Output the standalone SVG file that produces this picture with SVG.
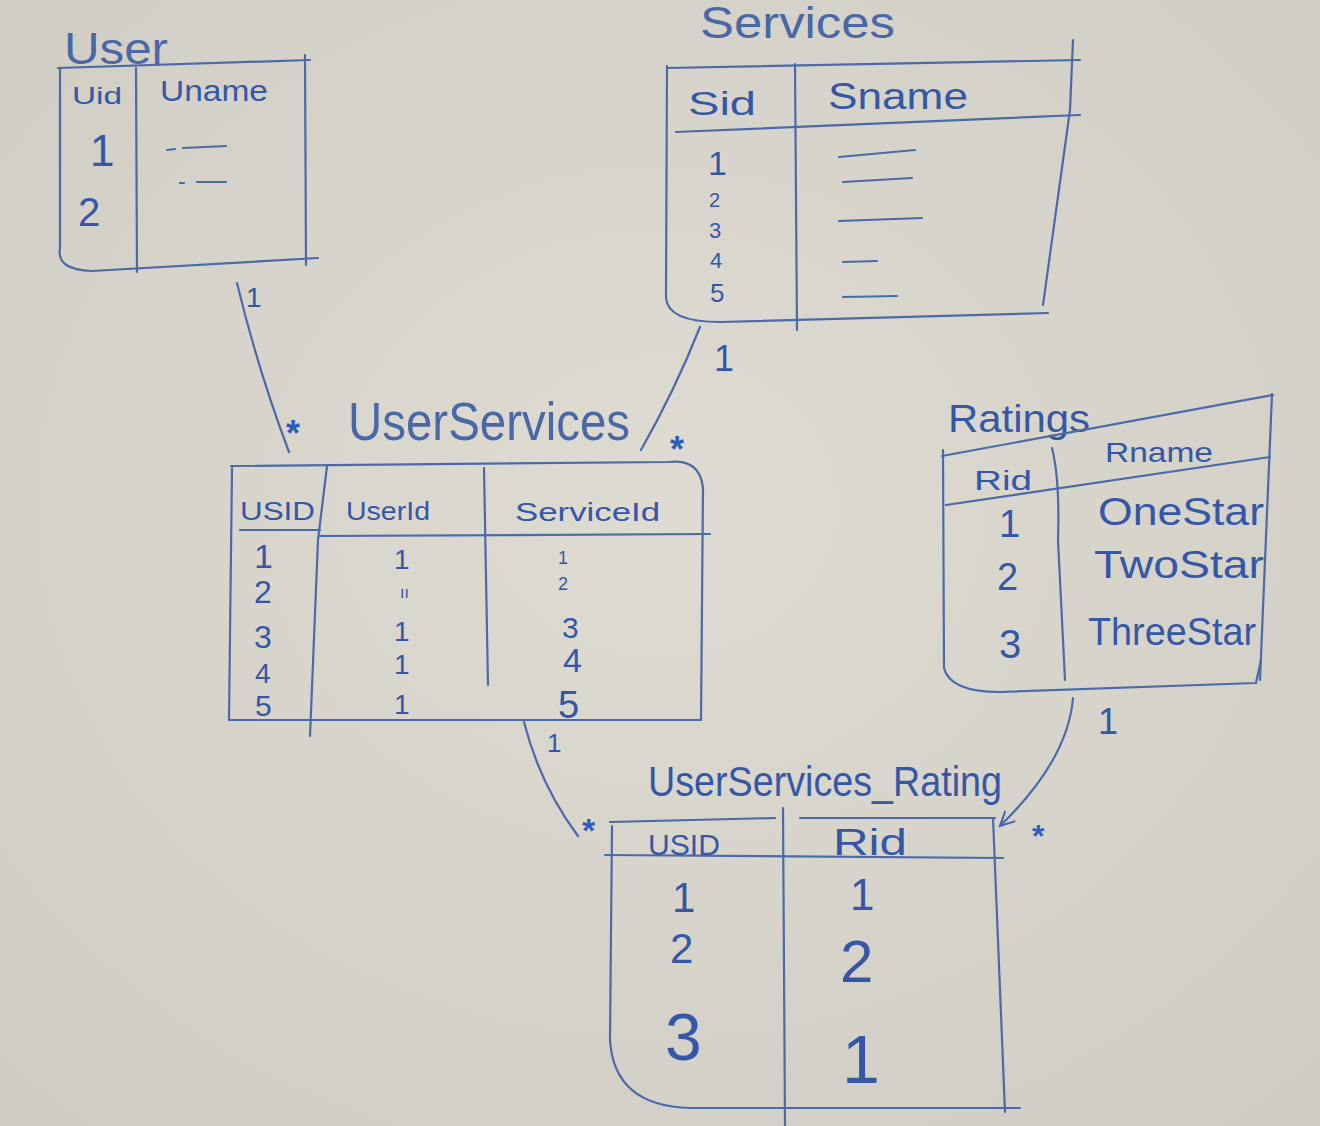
<svg xmlns="http://www.w3.org/2000/svg" width="1320" height="1126" viewBox="0 0 1320 1126">
<defs>
<radialGradient id="bg" cx="50%" cy="45%" r="75%">
<stop offset="0" stop-color="#dedbd3"/>
<stop offset="1" stop-color="#cfccc3"/>
</radialGradient>
<marker id="open" viewBox="0 0 20 20" refX="18" refY="10" markerWidth="18" markerHeight="18" markerUnits="userSpaceOnUse" orient="auto">
<path d="M2,2 L18,10 L2,18" fill="none" stroke="#3f62a8" stroke-width="2.2"/>
</marker>
<style>
.ln{fill:none;stroke:#4b6aa8;stroke-width:2.2;stroke-linecap:round;stroke-linejoin:round}
.tx{font-family:"Liberation Sans","DejaVu Sans",sans-serif;fill:#3557a5}
.ttl{font-family:"Liberation Sans","DejaVu Sans",sans-serif;fill:#4a68a6}
.star{font-family:"Liberation Sans","DejaVu Sans",sans-serif;fill:#2f5bbd;font-weight:bold}
</style>
</defs>
<rect width="1320" height="1126" fill="url(#bg)"/>

<g id="connectors">
<path class="ln" d="M237,283 Q258,370 289,452"/>
<text class="tx" x="246" y="307" font-size="28">1</text>
<text class="star" x="286" y="446" font-size="36">*</text>
<path class="ln" d="M700,327 Q675,390 641,450"/>
<text class="tx" x="714" y="371" font-size="36">1</text>
<text class="star" x="670" y="462" font-size="36">*</text>
<path class="ln" d="M524,722 Q540,785 578,836"/>
<text class="tx" x="547" y="752" font-size="26">1</text>
<text class="star" x="582" y="842" font-size="34">*</text>
<path class="ln" d="M1073,698 Q1068,760 1000,826" marker-end="url(#open)"/>
<text class="tx" x="1098" y="734" font-size="36">1</text>
<text class="star" x="1032" y="847" font-size="32">*</text>
</g>

<g id="user">
<text class="ttl" x="64" y="64" font-size="44" textLength="104" lengthAdjust="spacingAndGlyphs">User</text>
<path class="ln" d="M58,68 L310,60"/>
<path class="ln" d="M60,68 L60,248 Q56,270 92,271 L318,258"/>
<path class="ln" d="M305,55 L306,265"/>
<path class="ln" d="M136,68 L137,272"/>
<text class="tx" x="72" y="104" font-size="24" textLength="50" lengthAdjust="spacingAndGlyphs">Uid</text>
<text class="tx" x="160" y="101" font-size="30" textLength="108" lengthAdjust="spacingAndGlyphs">Uname</text>
<text class="tx" x="90" y="166" font-size="44">1</text>
<text class="tx" x="78" y="226" font-size="40">2</text>
<path class="ln" d="M167,150 L175,149 M183,148 L226,146 M180,183 L184,183 M197,182 L226,182"/>
</g>

<g id="services">
<text class="ttl" x="700" y="38" font-size="44" textLength="195" lengthAdjust="spacingAndGlyphs">Services</text>
<path class="ln" d="M667,68 L1080,60"/>
<path class="ln" d="M676,132 L1080,115"/>
<path class="ln" d="M667,66 L666,298 Q668,322 720,322 L1048,313"/>
<path class="ln" d="M1073,40 L1070,110 L1043,305"/>
<path class="ln" d="M795,64 L797,330"/>
<text class="tx" x="688" y="115" font-size="34" textLength="68" lengthAdjust="spacingAndGlyphs">Sid</text>
<text class="tx" x="828" y="109" font-size="36" textLength="140" lengthAdjust="spacingAndGlyphs">Sname</text>
<text class="tx" x="708" y="175" font-size="34">1</text>
<text class="tx" x="709" y="207" font-size="20">2</text>
<text class="tx" x="709" y="238" font-size="22">3</text>
<text class="tx" x="710" y="268" font-size="22">4</text>
<text class="tx" x="710" y="302" font-size="26">5</text>
<path class="ln" d="M839,157 L915,150 M843,182 L912,178 M839,221 L922,218 M843,262 L877,261 M843,297 L897,296"/>
</g>

<g id="userservices">
<text class="ttl" x="348" y="440" font-size="54" textLength="282" lengthAdjust="spacingAndGlyphs">UserServices</text>
<path class="ln" d="M231,466 L668,462 Q700,458 703,488 L701,720"/>
<path class="ln" d="M232,468 L229,720 L701,720"/>
<path class="ln" d="M240,530 L320,530 M320,536 L710,534"/>
<path class="ln" d="M327,466 L318,540 L310,736"/>
<path class="ln" d="M484,468 L488,685"/>
<text class="tx" x="240" y="520" font-size="26" textLength="75" lengthAdjust="spacingAndGlyphs">USID</text>
<text class="tx" x="346" y="520" font-size="26" textLength="84" lengthAdjust="spacingAndGlyphs">UserId</text>
<text class="tx" x="515" y="521" font-size="26" textLength="145" lengthAdjust="spacingAndGlyphs">ServiceId</text>
<text class="tx" x="254" y="568" font-size="34">1</text>
<text class="tx" x="254" y="603" font-size="32">2</text>
<text class="tx" x="254" y="648" font-size="32">3</text>
<text class="tx" x="255" y="683" font-size="28">4</text>
<text class="tx" x="255" y="716" font-size="30">5</text>
<text class="tx" x="394" y="569" font-size="28">1</text>
<text class="tx" x="400" y="598" font-size="16">ıı</text>
<text class="tx" x="394" y="641" font-size="28">1</text>
<text class="tx" x="394" y="674" font-size="28">1</text>
<text class="tx" x="394" y="714" font-size="28">1</text>
<text class="tx" x="558" y="564" font-size="18">1</text>
<text class="tx" x="558" y="590" font-size="18">2</text>
<text class="tx" x="562" y="638" font-size="30">3</text>
<text class="tx" x="563" y="672" font-size="34">4</text>
<text class="tx" x="558" y="718" font-size="38">5</text>
</g>

<g id="ratings">
<text class="tx" x="948" y="432" font-size="38" textLength="142" lengthAdjust="spacingAndGlyphs">Ratings</text>
<path class="ln" d="M942,456 L1273,395"/>
<path class="ln" d="M946,505 L1270,457"/>
<path class="ln" d="M943,450 L944,668 Q950,692 1000,692 L1256,683 L1261,660"/>
<path class="ln" d="M1272,394 L1260,680"/>
<path class="ln" d="M1052,448 Q1060,480 1058,540 L1065,680"/>
<text class="tx" x="974" y="490" font-size="28" textLength="58" lengthAdjust="spacingAndGlyphs">Rid</text>
<text class="tx" x="1105" y="462" font-size="28" textLength="108" lengthAdjust="spacingAndGlyphs">Rname</text>
<text class="tx" x="999" y="537" font-size="38">1</text>
<text class="tx" x="997" y="590" font-size="38">2</text>
<text class="tx" x="999" y="658" font-size="40">3</text>
<text class="tx" x="1098" y="525" font-size="38" textLength="166" lengthAdjust="spacingAndGlyphs">OneStar</text>
<text class="tx" x="1094" y="578" font-size="38" textLength="170" lengthAdjust="spacingAndGlyphs">TwoStar</text>
<text class="tx" x="1088" y="645" font-size="38" textLength="168" lengthAdjust="spacingAndGlyphs">ThreeStar</text>
</g>

<g id="userservices_rating">
<text class="tx" x="648" y="796" font-size="42" textLength="354" lengthAdjust="spacingAndGlyphs">UserServices_Rating</text>
<path class="ln" d="M610,822 L775,818 M800,818 L995,818"/>
<path class="ln" d="M612,826 L610,1040 Q614,1106 690,1108 L1020,1108"/>
<path class="ln" d="M993,818 L1005,1112"/>
<path class="ln" d="M605,855 L1003,858"/>
<path class="ln" d="M783,808 L785,1126"/>
<text class="tx" x="648" y="855" font-size="30" textLength="72" lengthAdjust="spacingAndGlyphs">USID</text>
<text class="tx" x="833" y="855" font-size="36" textLength="74" lengthAdjust="spacingAndGlyphs">Rid</text>
<text class="tx" x="672" y="912" font-size="42">1</text>
<text class="tx" x="670" y="963" font-size="42">2</text>
<text class="tx" x="665" y="1060" font-size="66">3</text>
<text class="tx" x="850" y="910" font-size="44">1</text>
<text class="tx" x="840" y="982" font-size="60">2</text>
<text class="tx" x="842" y="1083" font-size="68">1</text>
</g>
</svg>
